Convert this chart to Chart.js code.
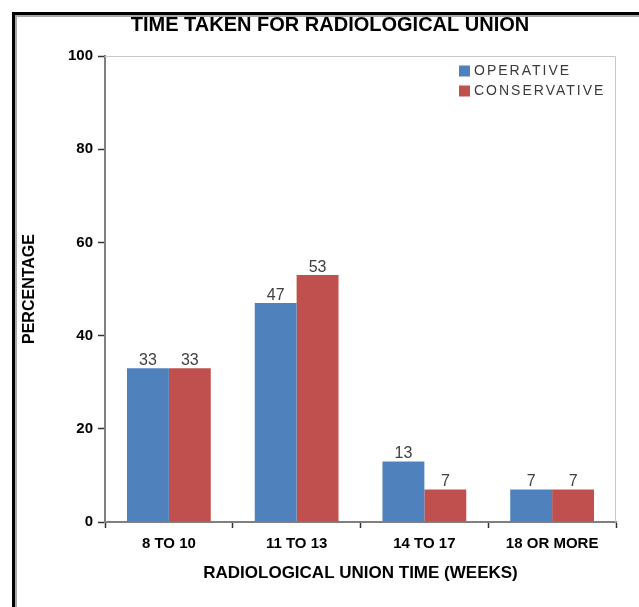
<!DOCTYPE html>
<html>
<head>
<meta charset="utf-8">
<script src="https://cdn.jsdelivr.net/npm/chart.js@4"></script>
<style>
  body { margin: 0; background: #fff; width: 639px; height: 607px; overflow: hidden; position: relative; }
  #frame { position: absolute; left: 12px; top: 12px; width: 700px; height: 700px; border-left: 3px solid #000; border-top: 3px solid #000; }
  #frame div { width: 100%; height: 100%; border-left: 2px solid #a8a8a8; border-top: 2px solid #a8a8a8; }
  #chart { position: absolute; left: 0; top: 0; }
</style>
</head>
<body>
<div id="frame"><div></div></div>
<canvas id="chart" width="639" height="607"></canvas>
<script>
// values
const categories = ['8 TO 10', '11 TO 13', '14 TO 17', '18 OR MORE'];
const operative = [33, 47, 13, 7];
const conservative = [33, 53, 7, 7];
const seriesNames = ['OPERATIVE', 'CONSERVATIVE'];
const seriesColors = ['#4F81BD', '#C0504D'];
const yTicks = [0, 20, 40, 60, 80, 100];

const FONT = "'Liberation Sans', Arial, sans-serif";

// title, plot border and legend, drawn on the canvas
const decorPlugin = {
    id: 'decor',
    beforeDatasetsDraw: function (chart) {
        const ctx = chart.ctx, a = chart.chartArea;
        ctx.save();
        ctx.strokeStyle = '#c8c8c8';
        ctx.lineWidth = 1;
        ctx.beginPath();
        ctx.moveTo(a.left, a.top + 0.5);
        ctx.lineTo(a.right - 0.5, a.top + 0.5);
        ctx.lineTo(a.right - 0.5, a.bottom);
        ctx.stroke();
        ctx.restore();
    },
    afterDraw: function (chart) {
        const ctx = chart.ctx;
        ctx.save();
        ctx.fillStyle = '#000';
        ctx.font = 'bold 20px ' + FONT;
        ctx.textAlign = 'center';
        ctx.textBaseline = 'middle';
        ctx.fillText('TIME TAKEN FOR RADIOLOGICAL UNION', 330, 25);

        // legend
        ctx.font = '14px ' + FONT;
        ctx.textAlign = 'left';
        ctx.letterSpacing = '2px';
        chart.data.datasets.forEach(function (ds, i) {
            const y = 71 + i * 20;
            ctx.fillStyle = ds.backgroundColor;
            ctx.fillRect(459, y - 5.5, 11, 11);
            ctx.fillStyle = '#3a3a3a';
            ctx.fillText(ds.label, 474, y + 0.5);
        });
        ctx.restore();
    }
};

// value labels above the bars
const valueLabels = {
    id: 'valueLabels',
    afterDatasetsDraw: function (chart) {
        const ctx = chart.ctx;
        ctx.save();
        ctx.font = '16px ' + FONT;
        ctx.fillStyle = '#404040';
        ctx.textAlign = 'center';
        ctx.textBaseline = 'alphabetic';
        chart.data.datasets.forEach(function (ds, i) {
            chart.getDatasetMeta(i).data.forEach(function (bar, j) {
                ctx.fillText(String(ds.data[j]), bar.x, bar.y - 3);
            });
        });
        ctx.restore();
    }
};

new Chart(document.getElementById('chart'), {
    type: 'bar',
    data: {
        labels: categories,
        datasets: [
            { label: seriesNames[0], data: operative, backgroundColor: seriesColors[0] },
            { label: seriesNames[1], data: conservative, backgroundColor: seriesColors[1] }
        ]
    },
    options: {
        responsive: false,
        animation: false,
        devicePixelRatio: 1,
        categoryPercentage: 0.656,
        barPercentage: 1,
        layout: { padding: { top: 56, right: 23, bottom: 0, left: 0 } },
        plugins: {
            legend: { display: false },
            title: { display: false },
            tooltip: { enabled: false }
        },
        scales: {
            x: {
                afterFit: function (scale) { scale.height = 85; },
                grid: { offset: true, drawOnChartArea: false, drawTicks: true, tickLength: 6, tickColor: '#333', tickWidth: 1.5 },
                border: { color: '#808080', width: 2 },
                ticks: { color: '#000', padding: 7, font: { family: FONT, size: 15, weight: 'bold' } },
                title: {
                    display: true,
                    text: 'RADIOLOGICAL UNION TIME (WEEKS)',
                    color: '#000',
                    font: { family: FONT, size: 17, weight: 'bold' },
                    padding: { top: 0, bottom: 23 }
                }
            },
            y: {
                min: 0,
                max: 100,
                afterFit: function (scale) { scale.width = 105; },
                afterBuildTicks: function (scale) { scale.ticks = yTicks.map(v => ({ value: v })); },
                grid: { drawOnChartArea: false, drawTicks: true, tickLength: 7, tickColor: '#333', tickWidth: 1.5 },
                border: { color: '#808080', width: 2 },
                ticks: { color: '#000', padding: 5, font: { family: FONT, size: 15, weight: 'bold' } },
                title: {
                    display: true,
                    text: 'PERCENTAGE',
                    color: '#000',
                    font: { family: FONT, size: 16, weight: 'bold' },
                    padding: { top: 20, bottom: 0 }
                }
            }
        }
    },
    plugins: [decorPlugin, valueLabels]
});
</script>
</body>
</html>
